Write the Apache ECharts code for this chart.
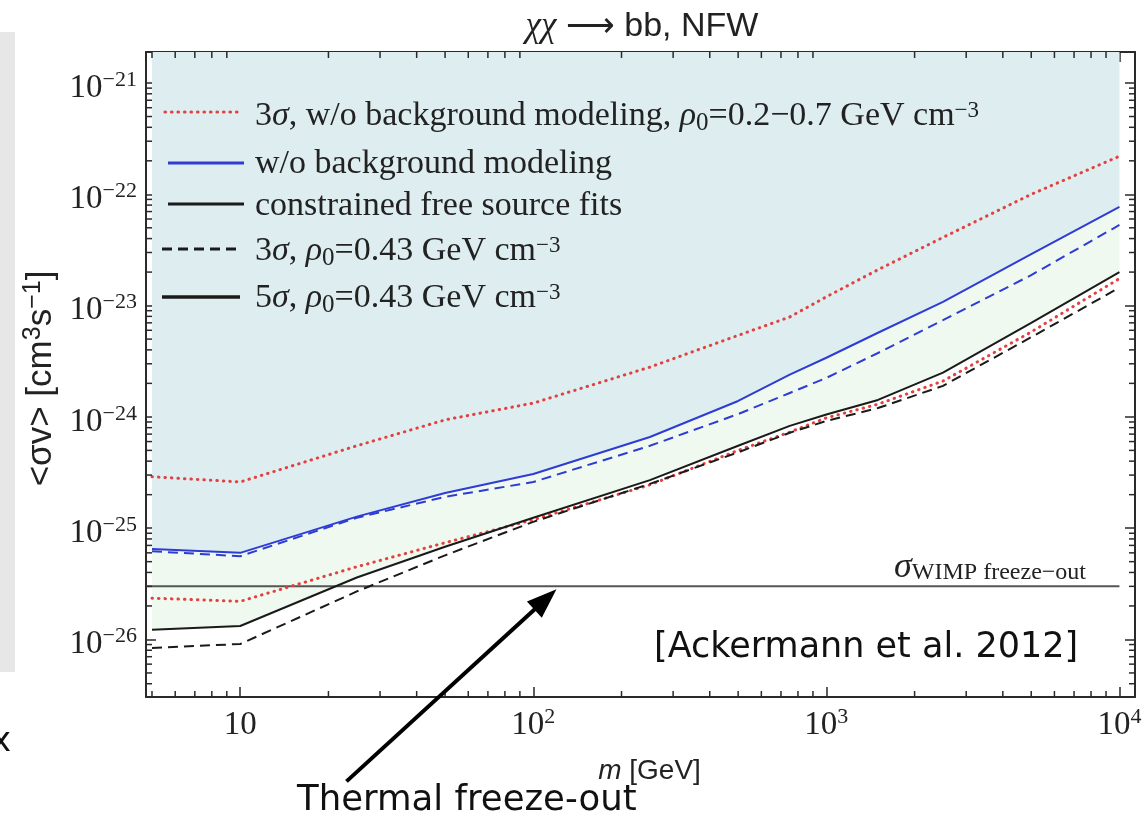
<!DOCTYPE html>
<html>
<head>
<meta charset="utf-8">
<title>χχ → bb, NFW</title>
<script src="https://cdn.jsdelivr.net/npm/echarts@6.0.0/dist/echarts.min.js"></script>
<style>
  html, body { margin: 0; padding: 0; background: #ffffff; }
  #chart { width: 1145px; height: 822px; }
</style>
</head>
<body>
<div id="chart"></div>
<script>
// Dark-matter particle mass grid (GeV)
const masses = [5, 10, 25, 50, 100, 250, 500, 750, 1000, 1500, 2500, 5000, 10000];

// Upper limits on <σv> (cm^3 s^-1) at each mass
const redUpper    = [2.9e-25, 2.6e-25, 5.5e-25, 9.4e-25, 1.33e-24, 2.8e-24, 5.4e-24, 7.9e-24, 1.2e-23, 2.1e-23, 4.1e-23, 1.0e-22, 2.2e-22];
const redLower    = [2.35e-26, 2.2e-26, 4.5e-26, 7.4e-26, 1.19e-25, 2.45e-25, 5.0e-25, 7.3e-25, 9.8e-25, 1.3e-24, 2.1e-24, 5.8e-24, 1.75e-23];
const blueSolid   = [6.5e-26, 6.0e-26, 1.27e-25, 2.07e-25, 3.07e-25, 6.6e-25, 1.39e-24, 2.4e-24, 3.4e-24, 5.7e-24, 1.08e-23, 2.9e-23, 7.7e-23];
const blueDashed  = [6.2e-26, 5.6e-26, 1.24e-25, 1.91e-25, 2.6e-25, 5.5e-25, 1.06e-24, 1.64e-24, 2.24e-24, 3.75e-24, 7.4e-24, 1.88e-23, 5.3e-23];
const blackSolid  = [1.22e-26, 1.32e-26, 3.6e-26, 6.8e-26, 1.24e-25, 2.7e-25, 5.5e-25, 8.3e-25, 1.05e-24, 1.42e-24, 2.5e-24, 7.0e-24, 2.0e-23];
const blackDashed = [8.4e-27, 9.1e-27, 2.7e-26, 5.7e-26, 1.14e-25, 2.5e-25, 4.8e-25, 7.2e-25, 9.2e-25, 1.2e-24, 1.9e-24, 5.2e-24, 1.45e-23];

// Thermal relic cross section
const freezeOutValue = 3e-26;
const freezeOutMasses = [4.77, 10000];

// Axis ranges
const X_MIN = 4.77, X_MAX = 11300;
const Y_MIN = 3.04e-27, Y_MAX = 1.9e-21;

// Minor tick values
const xMinorTicks = [5, 6, 7, 8, 9, 20, 30, 40, 50, 60, 70, 80, 90,
  200, 300, 400, 500, 600, 700, 800, 900, 2000, 3000, 4000, 5000, 6000, 7000, 8000, 9000];
const yMinorMantissas = [2, 3, 4, 5, 6, 7, 8, 9];
const yDecades = [-27, -26, -25, -24, -23, -22, -21];

// Legend labels (rich text)
const legendLabels = [
  '{t|3}{i|σ}{t|, w/o background modeling, }{i|ρ}{sub|0}{t|=0.2−0.7 GeV cm}{sup|−3}',
  '{t|w/o background modeling}',
  '{t|constrained free source fits}',
  '{t|3}{i|σ}{t|, }{i|ρ}{sub|0}{t|=0.43 GeV cm}{sup|−3}',
  '{t|5}{i|σ}{t|, }{i|ρ}{sub|0}{t|=0.43 GeV cm}{sup|−3}'
];

const SERIF = '"Liberation Serif", "DejaVu Serif", serif';
const SANS = '"Liberation Sans", Arial, sans-serif';
const SLIDE = '"DejaVu Sans", Verdana, sans-serif';
const AXIS = '#2a2a2a';
const TEXT = '#222222';
const RED = '#e2413f';
const BLUE = '#2e3cd4';
const BLACK = '#1a1a1a';
const LIGHTBLUE = '#deedf0';
const MINT = '#eff9ef';
const DOTS = [0.5, 6];

const yMinorTicks = [];
yDecades.forEach(d => yMinorMantissas.forEach(k => {
  const v = Number(k + 'e' + d);
  if (v >= Y_MIN && v <= Y_MAX) yMinorTicks.push(v);
}));

const pairs = ys => masses.map((m, i) => [m, ys[i]]);

function powLabel(v) {
  const lg = Math.log10(v);
  const e = Math.round(lg);
  if (Math.abs(lg - e) > 1e-6) return '';
  if (e === 1) return '{b|10}';
  return '{b|10}{s|' + String(e).replace('-', '\u2212') + '}';
}

const tickRich = {
  b: { fontFamily: SERIF, fontSize: 33, color: TEXT, lineHeight: 40 },
  s: { fontFamily: SERIF, fontSize: 22, color: TEXT, verticalAlign: 'top', height: 24 }
};

function axisCommon(extra) {
  return Object.assign({
    type: 'log',
    logBase: 10,
    axisLine: { show: true, onZero: false, lineStyle: { color: AXIS, width: 2 } },
    axisTick: { show: true, inside: true, length: 10, lineStyle: { color: AXIS, width: 1.5 } },
    minorTick: { show: false },
    splitLine: { show: false },
    minorSplitLine: { show: false }
  }, extra);
}

const MINOR_LEN = 6;
function minorTickSeries(values, horizontal) {
  return {
    type: 'custom',
    silent: true,
    clip: false,
    z: 6,
    data: values.map(v => horizontal ? [v, Y_MIN] : [X_MIN, v]),
    renderItem(params, api) {
      const style = { stroke: AXIS, lineWidth: 1.5 };
      if (horizontal) {
        const v = api.value(0);
        const b = api.coord([v, Y_MIN]);
        const t = api.coord([v, Y_MAX]);
        return { type: 'group', children: [
          { type: 'line', shape: { x1: b[0], y1: b[1], x2: b[0], y2: b[1] - MINOR_LEN }, style },
          { type: 'line', shape: { x1: t[0], y1: t[1], x2: t[0], y2: t[1] + MINOR_LEN }, style }
        ] };
      }
      const v = api.value(1);
      const l = api.coord([X_MIN, v]);
      const r = api.coord([X_MAX, v]);
      return { type: 'group', children: [
        { type: 'line', shape: { x1: l[0], y1: l[1], x2: l[0] + MINOR_LEN, y2: l[1] }, style },
        { type: 'line', shape: { x1: r[0], y1: r[1], x2: r[0] - MINOR_LEN, y2: r[1] }, style }
      ] };
    }
  };
}

// Shaded region built from curve points, drawn as one polygon
function regionSeries(name, color, buildPoints) {
  return {
    name, type: 'custom', silent: true, clip: true, z: 1,
    data: [[masses[0], blueSolid[0]]],
    renderItem(params, api) {
      return { type: 'polygon', shape: { points: buildPoints(api) }, style: { fill: color } };
    }
  };
}
const curvePoints = (api, ys) => masses.map((m, i) => api.coord([m, ys[i]]));

function curve(name, ys, color, width, type, cap) {
  return {
    name, type: 'line', data: pairs(ys), symbol: 'none', silent: true, z: 4,
    lineStyle: { color, width, type, cap: cap || 'butt' }
  };
}

const chart = echarts.init(document.getElementById('chart'), null, { renderer: 'canvas' });

chart.setOption({
  animation: false,
  backgroundColor: '#ffffff',
  grid: { left: 146, right: 10, top: 52, bottom: 125, containLabel: false, outerBoundsMode: 'none' },
  xAxis: [
    axisCommon({
      position: 'bottom', min: X_MIN, max: X_MAX,
      name: '{i|m}{t| [GeV]}', nameLocation: 'middle', nameGap: 60,
      nameTextStyle: { padding: [0, 0, 0, 18], rich: {
        i: { fontFamily: SANS, fontStyle: 'italic', fontSize: 28, color: TEXT },
        t: { fontFamily: SANS, fontSize: 28, color: TEXT }
      } },
      axisLabel: { show: true, margin: 8, formatter: powLabel, rich: tickRich,
        showMinLabel: false, showMaxLabel: false, hideOverlap: false }
    }),
    axisCommon({
      position: 'top', min: X_MIN, max: X_MAX,
      axisLabel: { show: false }
    })
  ],
  yAxis: [
    axisCommon({
      position: 'left', min: Y_MIN, max: Y_MAX,
      name: '{t|<}{i|σ}{t|v> [cm}{s|3}{t|s}{s|−1}{t|]}', nameLocation: 'middle', nameGap: 84, nameRotate: 90,
      nameTextStyle: { fontFamily: SANS, fontSize: 35, color: TEXT, padding: [0, 8, 0, 0], rich: {
        i: { fontFamily: SANS, fontSize: 35, color: TEXT, lineHeight: 40 },
        t: { fontFamily: SANS, fontSize: 35, color: TEXT, lineHeight: 40 },
        s: { fontFamily: SANS, fontSize: 25, color: TEXT, verticalAlign: 'top', height: 24 }
      } },
      axisLabel: { show: true, margin: 9, formatter: powLabel, rich: tickRich, padding: [10, 0, 0, 0],
        showMinLabel: false, showMaxLabel: false, hideOverlap: false }
    }),
    axisCommon({
      position: 'right', min: Y_MIN, max: Y_MAX,
      axisLabel: { show: false }
    })
  ],
  series: [
    // excluded region above the background-free limit
    regionSeries('excludedFill', LIGHTBLUE, api => {
      const pts = curvePoints(api, blueSolid);
      pts.push(api.coord([masses[masses.length - 1], Y_MAX]), api.coord([masses[0], Y_MAX]));
      return pts;
    }),
    // band between the two limit families
    regionSeries('bandFill', MINT, api =>
      curvePoints(api, blueSolid).concat(curvePoints(api, blackSolid).reverse())),
    // thermal relic cross section
    { name: 'freezeOut', type: 'line', symbol: 'none', silent: true, z: 3,
      data: freezeOutMasses.map(m => [m, freezeOutValue]),
      lineStyle: { color: '#555555', width: 2 } },
    curve('3σ, w/o background modeling, ρ0=0.2', redUpper, RED, 3, DOTS, 'round'),
    curve('3σ, w/o background modeling, ρ0=0.7', redLower, RED, 3, DOTS, 'round'),
    curve('3σ, w/o background modeling', blueDashed, BLUE, 2, [10, 6]),
    curve('5σ, w/o background modeling', blueSolid, BLUE, 2, 'solid'),
    curve('3σ, constrained free source fits', blackDashed, BLACK, 2, [10, 6]),
    curve('5σ, constrained free source fits', blackSolid, BLACK, 2, 'solid'),
    minorTickSeries(xMinorTicks, true),
    minorTickSeries(yMinorTicks, false)
  ]
});

// Legend, title and annotations
const serifRich = {
  t: { fontFamily: SERIF, fontSize: 34, fill: TEXT, lineHeight: 40 },
  i: { fontFamily: SERIF, fontSize: 34, fontStyle: 'italic', fill: TEXT, lineHeight: 40 },
  sup: { fontFamily: SERIF, fontSize: 23, fill: TEXT, verticalAlign: 'top', height: 30 },
  sub: { fontFamily: SERIF, fontSize: 25, fill: TEXT, verticalAlign: 'bottom' }
};

const legendRowY = [112, 163, 204, 249, 297];
const legendTextY = [116, 164, 206, 251, 298];
const legendStrokes = [
  { stroke: RED, lineWidth: 3.2, lineDash: DOTS, lineCap: 'round', x1: 165, x2: 240 },
  { stroke: BLUE, lineWidth: 3, x1: 168, x2: 244 },
  { stroke: BLACK, lineWidth: 3, x1: 168, x2: 244 },
  { stroke: BLACK, lineWidth: 3, lineDash: [10, 6], x1: 162, x2: 236 },
  { stroke: BLACK, lineWidth: 3.5, x1: 162, x2: 240 }
];

const graphics = [
  // grey strip at the left edge
  { type: 'rect', silent: true, z: 0, shape: { x: 0, y: 32, width: 15, height: 640 }, style: { fill: '#e7e7e7' } },
  { type: 'text', silent: true, x: -9, y: 742, style: { text: 'x', fontFamily: SLIDE, fontSize: 34, fill: '#111', verticalAlign: 'middle' } },
  // title
  { type: 'text', silent: true, x: 642, y: 27, style: {
      text: '{i|χχ}{t| ⟶ bb, NFW}', align: 'center', verticalAlign: 'middle',
      rich: {
        i: { fontFamily: SERIF, fontStyle: 'italic', fontSize: 35, fill: TEXT },
        t: { fontFamily: SANS, fontSize: 34, fill: TEXT }
      } } },
  // freeze-out label
  { type: 'text', silent: true, x: 1086, y: 568, style: {
      text: '{i|σ}{sub|WIMP freeze−out}', align: 'right', verticalAlign: 'middle',
      rich: {
        i: { fontFamily: SERIF, fontStyle: 'italic', fontSize: 36, fill: TEXT, lineHeight: 34 },
        sub: { fontFamily: SERIF, fontSize: 24, fill: TEXT, verticalAlign: 'bottom' }
      } } },
  // reference
  { type: 'text', silent: true, x: 654, y: 648, style: {
      text: '[Ackermann et al. 2012]', fontFamily: SLIDE, fontSize: 35, fill: '#111', verticalAlign: 'middle' } },
  { type: 'text', silent: true, x: 297, y: 801, style: {
      text: 'Thermal freeze-out', fontFamily: SLIDE, fontSize: 35.5, fill: '#111', verticalAlign: 'middle' } }
];

legendLabels.forEach((label, i) => {
  const s = legendStrokes[i];
  graphics.push({ type: 'line', silent: true, z: 10,
    shape: { x1: s.x1, y1: legendRowY[i], x2: s.x2, y2: legendRowY[i] },
    style: { stroke: s.stroke, lineWidth: s.lineWidth, lineDash: s.lineDash || null, lineCap: s.lineCap || 'butt' } });
  graphics.push({ type: 'text', silent: true, z: 10, x: 255, y: legendTextY[i],
    style: { text: label, rich: serifRich, verticalAlign: 'middle', align: 'left', lineHeight: 40 } });
});

// arrow pointing at the thermal relic line
const arrowTarget = [120, freezeOutValue];
const tip = chart.convertToPixel({ gridIndex: 0 }, arrowTarget);
tip[1] += 3;
const tail = [tip[0] - 210, tip[1] + 192];
const dx = tip[0] - tail[0], dy = tip[1] - tail[1];
const len = Math.hypot(dx, dy);
const ux = dx / len, uy = dy / len;
const HEAD_L = 30, HEAD_W = 11;
const base = [tip[0] - ux * HEAD_L, tip[1] - uy * HEAD_L];
graphics.push({ type: 'line', silent: true, z: 12,
  shape: { x1: tail[0], y1: tail[1], x2: base[0] + ux * 2, y2: base[1] + uy * 2 },
  style: { stroke: '#000', lineWidth: 4 } });
graphics.push({ type: 'polygon', silent: true, z: 12,
  shape: { points: [tip, [base[0] - uy * HEAD_W, base[1] + ux * HEAD_W], [base[0] + uy * HEAD_W, base[1] - ux * HEAD_W]] },
  style: { fill: '#000' } });

chart.setOption({ graphic: graphics });
</script>
</body>
</html>
